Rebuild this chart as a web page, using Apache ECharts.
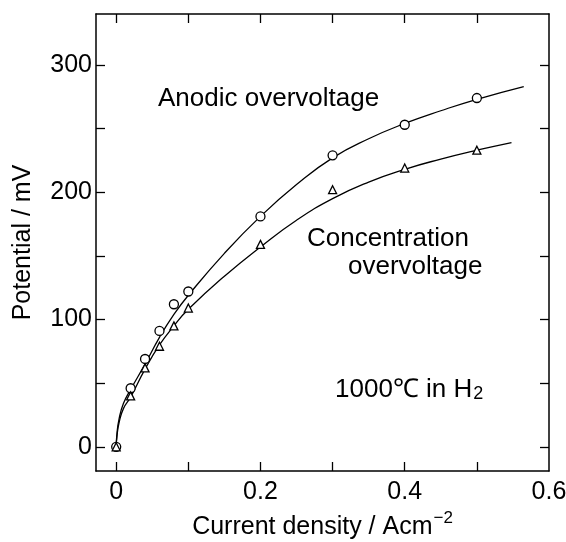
<!DOCTYPE html>
<html>
<head>
<meta charset="utf-8">
<script src="https://cdn.jsdelivr.net/npm/echarts@6/dist/echarts.min.js"></script>
<style>html,body{margin:0;padding:0;background:#fff}#c{width:566px;height:542px}</style>
</head>
<body>
<div id="c"></div>
<script>
// Measured points
var anodicX = [0, 0.02, 0.04, 0.06, 0.08, 0.1, 0.2, 0.3, 0.4, 0.5];
var anodicY = [0, 46, 69, 91, 112, 122, 181, 229, 253, 274];
var concX = [0, 0.02, 0.04, 0.06, 0.08, 0.1, 0.2, 0.3, 0.4, 0.5];
var concY = [0, 40, 62, 79, 95, 109, 159, 202, 219, 233];
// Fitted curves
var anodicCurveX = [0, 0.001, 0.004, 0.01, 0.02, 0.04, 0.06, 0.08, 0.1, 0.15, 0.2, 0.25, 0.3, 0.35, 0.4, 0.45, 0.5, 0.565];
var anodicCurveY = [0, 10, 22, 34, 45, 65, 86, 104, 119, 152, 181, 206, 227, 242, 254, 264, 273, 283];
var concCurveX = [0, 0.001, 0.004, 0.01, 0.02, 0.04, 0.06, 0.08, 0.1, 0.15, 0.2, 0.25, 0.3, 0.35, 0.4, 0.45, 0.5, 0.548];
var concCurveY = [0, 8, 19, 30, 39, 61, 80, 95, 108, 134, 157, 178, 195, 208, 218, 226, 233, 239];
var xTickValues = [0, 0.1, 0.2, 0.3, 0.4, 0.5];
var xLabelValues = [0, 0.2, 0.4, 0.6];
var yTickValues = [0, 50, 100, 150, 200, 250, 300];
var yLabelValues = [0, 100, 200, 300];

function zip(a, b) { return a.map(function (v, i) { return [v, b[i]]; }); }

var FONT = '"Liberation Sans", Arial, Helvetica, sans-serif';
var chart = echarts.init(document.getElementById('c'), null, {renderer: 'canvas'});
var axisLine = {show: true, onZero: false, lineStyle: {color: '#000', width: 1.5}};
var tick = function (vals) { return {show: true, inside: true, length: 9, customValues: vals, lineStyle: {color: '#000', width: 1.3}}; };

chart.setOption({
  backgroundColor: '#fff',
  animation: false,
  grid: {left: 96, top: 14, right: 17, bottom: 71, containLabel: false, outerBoundsMode: 'none'},
  xAxis: [{
    type: 'value', min: -0.028, max: 0.6, position: 'bottom',
    axisLine: axisLine, axisTick: tick(xTickValues), splitLine: {show: false},
    axisLabel: {customValues: xLabelValues, color: '#000', fontSize: 25, fontFamily: FONT, margin: 9,
      formatter: function (v) { return v === 0 ? '0' : v.toFixed(1); }},
    name: '{n|Current density / Acm}{sup|−2}', nameLocation: 'middle', nameGap: 36,
    nameTextStyle: {color: '#000', fontSize: 25, fontFamily: FONT,
      rich: {
        n: {fontSize: 25, fontFamily: FONT, color: '#000', verticalAlign: 'bottom'},
        sup: {fontSize: 17, fontFamily: FONT, color: '#000', verticalAlign: 'bottom', padding: [0, 0, 13, 1]}
      }}
  }, {
    type: 'value', min: -0.028, max: 0.6, position: 'top',
    axisLine: axisLine, axisTick: tick(xTickValues), axisLabel: {show: false}, splitLine: {show: false}
  }],
  yAxis: [{
    type: 'value', min: -19, max: 340, position: 'left',
    axisLine: axisLine, axisTick: tick(yTickValues), splitLine: {show: false},
    axisLabel: {customValues: yLabelValues, color: '#000', fontSize: 25, fontFamily: FONT, margin: 4},
    name: 'Potential / mV', nameLocation: 'middle', nameGap: 60,
    nameTextStyle: {color: '#000', fontSize: 25, fontFamily: FONT}
  }, {
    type: 'value', min: -19, max: 340, position: 'right',
    axisLine: axisLine, axisTick: tick(yTickValues), axisLabel: {show: false}, splitLine: {show: false}
  }],
  series: [
    {type: 'line', data: zip(anodicCurveX, anodicCurveY), smooth: 0.5, showSymbol: false,
      lineStyle: {color: '#000', width: 1.3}, silent: true},
    {type: 'line', data: zip(concCurveX, concCurveY), smooth: 0.5, showSymbol: false,
      lineStyle: {color: '#000', width: 1.3}, silent: true},
    {type: 'scatter', data: zip(anodicX, anodicY), symbol: 'circle', symbolSize: 9,
      itemStyle: {color: '#fff', borderColor: '#000', borderWidth: 1.3, opacity: 1}, z: 3},
    {type: 'scatter', data: zip(concX, concY), symbol: 'triangle', symbolSize: 8,
      itemStyle: {color: '#fff', borderColor: '#000', borderWidth: 1.3, opacity: 1}, z: 3}
  ],
  graphic: [
    {type: 'text', left: 158, top: 86, style: {text: 'Anodic overvoltage', fill: '#000', font: '26px ' + FONT}},
    {type: 'text', left: 307, top: 226, style: {text: 'Concentration', fill: '#000', font: '26px ' + FONT}},
    {type: 'text', left: 348, top: 254, style: {text: 'overvoltage', fill: '#000', font: '26px ' + FONT}},
    {type: 'text', left: 335, top: 377, style: {text: '1000℃ in H{sub|2}', fill: '#000', font: '26px ' + FONT,
      rich: {sub: {fontSize: 18, fontFamily: FONT, fill: '#000', verticalAlign: 'bottom', padding: [8, 0, 0, 1]}}}}
  ]
});
</script>
</body>
</html>
